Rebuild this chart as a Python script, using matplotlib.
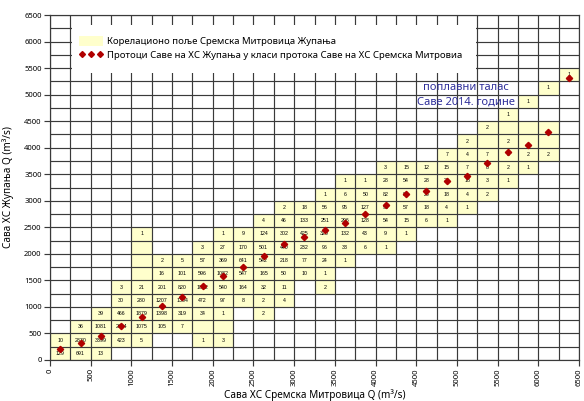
import matplotlib
matplotlib.use("Agg")
import matplotlib.pyplot as plt
from matplotlib.patches import Rectangle, Patch
from matplotlib.lines import Line2D
import numpy as np

plt.rcParams['font.family'] = ['Noto Sans', 'DejaVu Sans']

# class width (m3/s) of the correlation table
step = 250

# correlation field: per row (Zupanja class) the first column (Mitrovica class)
# and the counts; None = empty yellow cell, 0 = cell outside the field
row_start = [0, 0, 1, 2, 3, 3, 4, 4, 4, 4, 10, 11, 13, 14, 16, 19, 20, 21, 22, 23, 24, 25]
row_counts = [
    [129, 691, 13],
    [10, 2830, 3399, 423, 5, 0, 0, 1, 3],
    [36, 1081, 2604, 1075, 105, 7, None, None],
    [39, 466, 1879, 1398, 319, 34, 1, 0, 2],
    [30, 280, 1207, 1304, 472, 97, 8, 2, 4],
    [3, 21, 201, 820, 1862, 540, 164, 32, 11, 0, 2],
    [None, 16, 101, 596, 1082, 547, 165, 50, 10, 1],
    [None, 2, 5, 57, 369, 641, 542, 218, 77, 24, 1],
    [None, 0, 0, 3, 27, 170, 501, 440, 232, 96, 33, 6, 1],
    [1, 0, 0, 0, 1, 9, 124, 302, 425, 320, 132, 43, 9, 1],
    [4, 46, 133, 251, 296, 128, 54, 15, 6, 1],
    [2, 18, 56, 95, 127, 93, 57, 18, 4, 1],
    [1, 6, 50, 82, 86, 26, 18, 4, 2],
    [1, 1, 28, 54, 28, 26, 18, 3, 1],
    [3, 15, 12, 15, 7, 8, 2, 1],
    [7, 4, 7, 5, 2, 2],
    [2, None, 2, None, None],
    [2, None, None, None],
    [1],
    [1],
    [1],
    [1],
]

# mean Zupanja flow for every Mitrovica class (class centres)
class_mid = np.arange(125, 6500, 250)
zup_mean = [200, 315, 450, 640, 815, 1015, 1195, 1395, 1585, 1760, 1965, 2190, 2310,
            2450, 2575, 2745, 2920, 3125, 3185, 3380, 3465, 3705, 3915, 4050, 4300, 5310]

cell_color = '#ffffcc'
dot_color = '#b00000'

fig = plt.figure(figsize=(5.84, 4.01), dpi=100)
ax = fig.add_axes([50 / 584, 41 / 401, 529 / 584, 345 / 401])

# yellow cells with counts
for r, (c0, vals) in enumerate(zip(row_start, row_counts)):
    for k, v in enumerate(vals):
        if v == 0:
            continue
        x = (c0 + k) * step
        y = r * step
        ax.add_patch(Rectangle((x, y), step, step, facecolor=cell_color,
                               edgecolor='none', zorder=1))
        if v is not None:
            ax.text(x + step / 2, y + step / 2, str(v), ha='center', va='center',
                    fontsize=3.8, family='Liberation Sans', zorder=3)

ax.plot(class_mid, zup_mean, linestyle='none', marker='D', markersize=3.2,
        color=dot_color, zorder=4)

ax.set_xlim(0, 6500)
ax.set_ylim(0, 6500)
ax.set_xticks(np.arange(0, 6501, 500))
ax.set_yticks(np.arange(0, 6501, 500))
ax.set_xticks(np.arange(0, 6501, step), minor=True)
ax.set_yticks(np.arange(0, 6501, step), minor=True)
ax.grid(which='both', color='#3a3a3a', linewidth=0.85)
ax.tick_params(which='major', length=4, width=0.85, color='#3a3a3a', labelsize=5.5, pad=2)
ax.tick_params(which='minor', length=0)
ax.tick_params(axis='x', labelrotation=90)
for s in ax.spines.values():
    s.set_color('#3a3a3a')
    s.set_linewidth(0.85)

ax.set_xlabel('Сава ХС Сремска Митровица Q (m³/s)', fontsize=7.2)
ax.set_ylabel('Сава ХС Жупања Q (m³/s)', fontsize=7.2)
ax.xaxis.set_label_coords(0.5, -0.085)
ax.yaxis.set_label_coords(-0.068, 0.5)

# white background behind the legend
ax.add_patch(Rectangle((0.0416, 0.832), 0.764, 0.139, transform=ax.transAxes,
                       facecolor='white', edgecolor='none', zorder=4))
handles = [
    Patch(facecolor=cell_color, edgecolor='none'),
    Line2D([], [], linestyle='none', marker='D', markersize=3.0, color=dot_color),
]
labels = ['Корелационо поље Сремска Митровица Жупања',
          'Протоци Саве на ХС Жупања у класи протока Саве на ХС Сремска Митровиа']
leg = ax.legend(handles, labels, loc='upper left', bbox_to_anchor=(0.055, 0.94),
                frameon=False, fontsize=6.9, numpoints=3, handlelength=2.5,
                handleheight=1.25, handletextpad=0.4, borderpad=0, borderaxespad=0,
                labelspacing=0.4)
leg.set_zorder(5)

ax.text(5110, 5140, 'поплавни талас', color='#2e2e9a', fontsize=8,
        ha='center', va='center', zorder=5)
ax.text(5110, 4860, 'Саве 2014. године', color='#2e2e9a', fontsize=8,
        ha='center', va='center', zorder=5)

fig.savefig('out.png', dpi=100)
